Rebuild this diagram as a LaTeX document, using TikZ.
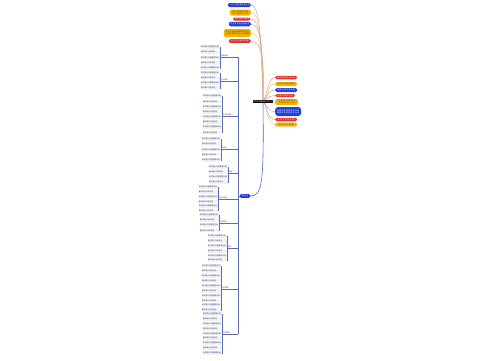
\documentclass[tikz,border=0pt]{standalone}
\usepackage{fontspec}
\setmainfont{Noto Sans CJK SC}
\XeTeXlinebreaklocale "zh"
\XeTeXlinebreakskip=0pt plus 1pt
\usetikzlibrary{backgrounds}
\definecolor{mred}{HTML}{E3342F}
\definecolor{myel}{HTML}{F4B400}
\definecolor{mblu}{HTML}{2340D6}
\definecolor{slate}{HTML}{5D6DB5}
\definecolor{ltext}{HTML}{3F4052}
\tikzset{
  pill/.style={rounded corners=1.6pt, inner sep=0.5pt, align=center, font=\fontsize{1.8}{2.1}\selectfont},
  rn/.style={pill, fill=mred, text=white},
  yn/.style={pill, fill=myel, text=black!80},
  bn/.style={pill, fill=mblu, text=white},
  lvl/.style={inner sep=0.3pt, align=left, text=ltext, font=\fontsize{1.8}{2}\selectfont},
  leaf/.style={inner sep=0.3pt, align=left, text=ltext, font=\fontsize{1.8}{2}\selectfont, fill=slate!9},
  ln/.style={draw=slate, line width=0.35pt},
  cv/.style={line width=0.45pt},
}
\newcommand\mmgroup[5]{%
  \pgfmathsetmacro\mmtw{238-#2-0.6}
  \node[lvl, anchor=south west, text width=\mmtw pt] (#1) at (#2,#3) {#5};
  \draw[ln] (#1.south west) -- (#1.south east);
  \foreach \yy [count=\ii] in {#4} {
    \node[leaf, anchor=east, text width=18.4pt, minimum height=3.6pt] (#1-\ii) at (#2-0.3,\yy) {\ifodd\ii 知识要点内容整理归纳\else 重点难点归纳总结\fi};
    \draw[ln] (#1.south west) |- (#1-\ii.east);
  }
}
\begin{document}
\begin{tikzpicture}[x=1pt,y=-1pt]
\useasboundingbox (0,0) rectangle (500,360);
% root nodes
\node[fill=black, text=white, inner sep=0.4pt, minimum width=20pt, minimum height=3pt, font=\fontsize{1.8}{2}\selectfont] (root) at (263,101.5) {初中语文基础知识点汇总};
\node[bn, rounded corners=1pt, text width=9pt, minimum height=3.6pt] (sr) at (245,196) {知识点};
% top-left nodes
\node[bn, anchor=east, text width=22pt, minimum height=4pt] (t1) at (251,5) {一日一练成语积累大全};
\node[yn, anchor=east, text width=20pt, minimum height=6pt] (t2) at (251,12.5) {常见易错字词辨析与运用方法};
\node[rn, anchor=east, text width=17pt, minimum height=3pt] (t3) at (251,19) {古诗词名句默写};
\node[bn, anchor=east, text width=21pt, minimum height=4.5pt] (t4) at (251,24) {文言文实词虚词用法};
\node[yn, anchor=east, text width=26pt, minimum height=8pt] (t5) at (251,33) {现代文阅读理解答题技巧与常见题型分析归纳整理};
\node[rn, anchor=east, text width=21pt, minimum height=4pt] (t6) at (251,41) {作文写作素材积累};
% right nodes
\node[rn, anchor=west, text width=21pt, minimum height=3.5pt] (r1) at (275,77.5) {病句修改方法归纳};
\node[yn, anchor=west, text width=21pt, minimum height=4pt] (r2) at (275,84) {标点符号使用规范};
\node[bn, anchor=west, text width=21pt, minimum height=4pt] (r3) at (275,90) {修辞手法及其作用};
\node[rn, anchor=west, text width=19pt, minimum height=3pt] (r4) at (275,95.5) {名著导读知识点};
\node[yn, anchor=west, text width=22pt, minimum height=6pt] (r5) at (275,102) {文学常识积累与作家作品介绍};
\node[bn, rounded corners=3pt, anchor=west, text width=25pt, minimum height=9pt] (r6) at (275,111.5) {说明文阅读说明方法说明顺序及说明语言特点};
\node[rn, anchor=west, text width=21pt, minimum height=3.5pt] (r7) at (275,119.5) {议论文论点论据};
\node[yn, anchor=west, text width=21pt, minimum height=4pt] (r8) at (275,124.5) {记叙文六要素};
% left groups
\mmgroup{g1}{220}{57}{47,52,57.5,63,68}{词语运用}
\mmgroup{g2}{220}{81}{73,77.5,83,88}{句子训练}
\mmgroup{g3}{222}{116}{96,101.5,107,112,117,122,127,132.5}{古诗文阅读}
\mmgroup{g4}{221}{149}{139,144,149.5,154.5,160}{文言文}
\mmgroup{g5}{228}{173}{167,172,177,182}{名著}
\mmgroup{g6}{218}{199}{187,192,197,201.5,206,210.5}{现代文阅读}
\mmgroup{g7}{219}{223}{215,220,225,230.5}{口语交际}
\mmgroup{g8}{227}{248}{236,241,246,251,255.5,260}{综合}
\mmgroup{g9}{221}{289}{266,271,276,281,286,291,296,300.5,305,310}{写作指导}
\mmgroup{g10}{222}{334}{314,319,324,329,333.5,338,343,348,353}{作文素材}
\draw[ln] (g1.south east) -- (g10.south east);
\draw[ln] (sr.west) -- (sr.west -| g1.south east);
\begin{scope}[on background layer]
\fill[white] (0,0) rectangle (500,360);
\draw[cv, draw=mblu!45] (root.north) .. controls (261,50) and (261,5) .. (t1.east);
\draw[cv, draw=myel!70] (root.north) .. controls (262,55) and (262,12.5) .. (t2.east);
\draw[cv, draw=mred!55] (root.north) .. controls (262,60) and (262,19) .. (t3.east);
\draw[cv, draw=mblu!45] (root.north) .. controls (263,62) and (263,24) .. (t4.east);
\draw[cv, draw=myel!70] (root.north) .. controls (263,66) and (263,33) .. (t5.east);
\draw[cv, draw=mred!55] (root.north) .. controls (264,70) and (264,41) .. (t6.east);
\draw[cv, draw=mred!55] (root.north) .. controls (267,100) and (267,77.5) .. (r1.west);
\draw[cv, draw=myel!70] (root.north) .. controls (267,100) and (267,84) .. (r2.west);
\draw[cv, draw=mblu!45] (root.north) .. controls (267,100) and (267,90) .. (r3.west);
\draw[cv, draw=mred!55] (root.north) .. controls (267,100) and (268,95.5) .. (r4.west);
\draw[cv, draw=myel!70] (root.north) .. controls (267,101) and (268,102) .. (r5.west);
\draw[cv, draw=mblu!45] (root.north) .. controls (266,103) and (267,111.5) .. (r6.west);
\draw[cv, draw=mred!55] (root.north) .. controls (266,104) and (267,119.5) .. (r7.west);
\draw[cv, draw=myel!70] (root.north) .. controls (266,104) and (267,124.5) .. (r8.west);
\draw[cv, draw=mblu!80, line width=0.6pt] (root.south) .. controls (264,185) and (262,196) .. (sr.east);
\end{scope}
\end{tikzpicture}
\end{document}
